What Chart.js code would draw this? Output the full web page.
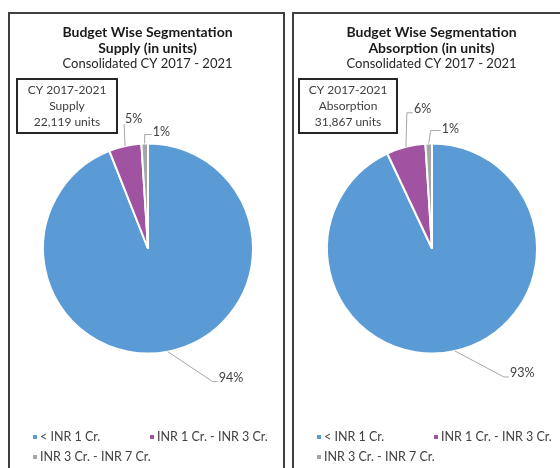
<!DOCTYPE html>
<html>
<head>
<meta charset="utf-8">
<script src="https://cdn.jsdelivr.net/npm/chart.js@4.4.0/dist/chart.umd.min.js"></script>
<style>
  body { margin: 0; background: #fff; width: 560px; height: 468px; overflow: hidden; position: relative; }
  .panel { position: absolute; top: 12px; width: 273px; height: 456px; border: 2px solid #404040; border-bottom: none; }
  #supplyPanel { left: 8px; }
  #absorptionPanel { left: 292px; }
  canvas { display: block; }
</style>
</head>
<body>
<div class="panel" id="supplyPanel"><canvas id="supplyChart" width="273" height="454"></canvas></div>
<div class="panel" id="absorptionPanel"><canvas id="absorptionChart" width="273" height="454"></canvas></div>
<script>
const categories = ['< INR 1 Cr.', 'INR 1 Cr. - INR 3 Cr.', 'INR 3 Cr. - INR 7 Cr.'];
const supplyShares = [94, 5, 1];
const absorptionShares = [93, 6, 1];
const supplyUnits = '22,119';
const absorptionUnits = '31,867';
const sliceColors = ['#5B9BD5', '#A053A0', '#A5A5A5'];

const FONT = 'Lato, "Open Sans", sans-serif';

// titles, info box, leader-line labels and legend, all painted after the pie
const panelText = {
  id: 'panelText',
  afterDraw(chart, args, opts) {
    const ctx = chart.ctx;
    ctx.save();
    ctx.textBaseline = 'middle';

    // heading
    ctx.fillStyle = '#1a1a1a';
    ctx.textAlign = 'center';
    ctx.font = 'bold 14px ' + FONT;
    ctx.fillText('Budget Wise Segmentation', 137.5, 18);
    ctx.fillText(opts.heading, 137.5, 34);
    ctx.font = '13px ' + FONT;
    ctx.fillStyle = '#262626';
    ctx.fillText('Consolidated CY 2017 - 2021', 137.5, 49.5);

    // info box
    ctx.strokeStyle = '#262626';
    ctx.lineWidth = 2;
    ctx.strokeRect(opts.box.x, 65, opts.box.w, 54);
    ctx.font = '12px ' + FONT;
    ctx.fillStyle = '#404040';
    const bx = opts.box.x + opts.box.w / 2;
    ctx.fillText('CY 2017-2021', bx, 76);
    ctx.fillText(opts.boxLabel, bx, 92.5);
    ctx.fillText(opts.units + ' units', bx, 108);

    // leader lines + percentage labels
    const meta = chart.getDatasetMeta(0);
    const values = chart.data.datasets[0].data;
    ctx.font = '12.5px ' + FONT;
    ctx.lineWidth = 1;
    ctx.strokeStyle = '#A6A6A6';
    meta.data.forEach((arc, i) => {
      const p = arc.getProps(['x', 'y', 'startAngle', 'endAngle', 'outerRadius'], true);
      const mid = (p.startAngle + p.endAngle) / 2;
      const ex = p.x + Math.cos(mid) * p.outerRadius;
      const ey = p.y + Math.sin(mid) * p.outerRadius;
      const l = opts.leaders[i];
      const kx = ex + l.dx, ky = ey + l.dy;
      ctx.beginPath();
      ctx.moveTo(ex, ey);
      ctx.lineTo(kx, ky);
      ctx.lineTo(kx + l.tail, ky);
      ctx.stroke();
      ctx.fillStyle = '#404040';
      ctx.textAlign = 'left';
      ctx.fillText(values[i] + '%', kx + l.tail + 1, ky + l.ty);
    });

    // legend
    ctx.font = '12.5px ' + FONT;
    const cols = [23, 140];
    const rows = [423, 443];
    chart.data.labels.forEach((label, i) => {
      const x = cols[i % 2], y = rows[Math.floor(i / 2)];
      ctx.fillStyle = sliceColors[i];
      ctx.fillRect(x, y - 2, 4, 4);
      ctx.fillStyle = '#404040';
      ctx.fillText(label, x + 7, y);
    });
    ctx.restore();
  }
};

function makePie(canvasId, shares, textOpts) {
  return new Chart(document.getElementById(canvasId), {
    type: 'pie',
    data: {
      labels: categories,
      datasets: [{
        data: shares,
        backgroundColor: sliceColors,
        borderColor: '#ffffff',
        borderWidth: 2
      }]
    },
    options: {
      responsive: false,
      animation: false,
      layout: { padding: { left: 32, right: 29, top: 128.5, bottom: 113.5 } },
      plugins: {
        legend: { display: false },
        tooltip: { enabled: false },
        panelText: textOpts
      }
    },
    plugins: [panelText]
  });
}

makePie('supplyChart', supplyShares, {
  heading: 'Supply (in units)',
  boxLabel: 'Supply',
  units: supplyUnits,
  box: { x: 7, w: 100 },
  leaders: [
    { dx: 45, dy: 30, tail: 5, ty: -4 },
    { dx: -1, dy: -22, tail: 0, ty: -5 },
    { dx: 0, dy: -9, tail: 7, ty: -3 }
  ]
});

makePie('absorptionChart', absorptionShares, {
  heading: 'Absorption (in units)',
  boxLabel: 'Absorption',
  units: absorptionUnits,
  box: { x: 5, w: 98 },
  leaders: [
    { dx: 49, dy: 26, tail: 5, ty: -4 },
    { dx: 1, dy: -34, tail: 6, ty: -4 },
    { dx: 2, dy: -13, tail: 10, ty: -2 }
  ]
});
</script>
</body>
</html>
